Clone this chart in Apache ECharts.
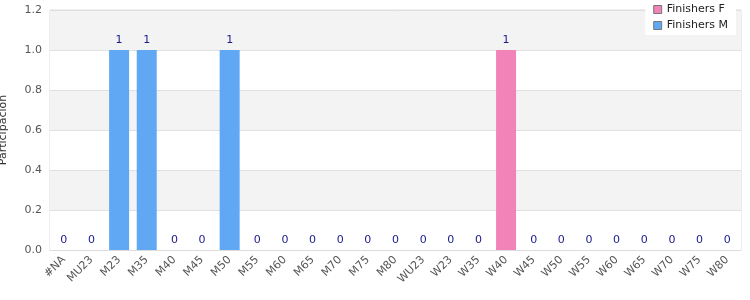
<!DOCTYPE html>
<html><head><meta charset="utf-8">
<script src="https://cdn.jsdelivr.net/npm/echarts@6/dist/echarts.min.js"></script>
<style>html,body{margin:0;padding:0;background:#fff}#c{width:750px;height:300px}</style>
</head><body><div id="c"></div>
<script>
const categories = ['#NA','MU23','M23','M35','M40','M45','M50','M55','M60','M65','M70','M75','M80','WU23','W23','W35','W40','W45','W50','W55','W60','W65','W70','W75','W80'];
const finishersF = [null,null,null,null,null,null,null,null,null,null,null,null,null,0,0,0,1,0,0,0,0,0,0,0,0];
const finishersM = [0,0,1,1,0,0,1,0,0,0,0,0,0,null,null,null,null,null,null,null,null,null,null,null,null];
const yTicks = [0,0.2,0.4,0.6,0.8,1.0,1.2];

const chart = echarts.init(document.getElementById('c'));
const lbl = {show:true, position:'top', color:'#1a1a8c', fontSize:11, fontFamily:'DejaVu Sans', distance:4};
chart.setOption({
  animation:false,
  textStyle:{fontFamily:'DejaVu Sans'},
  grid:{left:50, right:9, top:10, bottom:50, containLabel:false, outerBoundsMode:'none', show:true, borderColor:'#dcdcdc', borderWidth:1},
  legend:{
    orient:'vertical', right:14, top:0, backgroundColor:'#fff', padding:[4,8,4,8], itemGap:5,
    itemWidth:8, itemHeight:8, icon:'rect',
    itemStyle:{borderColor:'#777', borderWidth:1},
    textStyle:{fontSize:11, color:'#222', fontFamily:'DejaVu Sans'},
    data:['Finishers F','Finishers M']
  },
  xAxis:{
    type:'category', data:categories,
    axisTick:{show:false},
    axisLine:{lineStyle:{color:'#dcdcdc'}},
    axisLabel:{rotate:45, fontSize:11, color:'#555', interval:0, margin:8, fontFamily:'DejaVu Sans'}
  },
  yAxis:{
    type:'value', min:0, max:yTicks[yTicks.length-1], interval:0.2,
    name:'Participación', nameLocation:'middle', nameGap:41, nameRotate:90,
    nameTextStyle:{fontSize:11, color:'#333', fontFamily:'DejaVu Sans'},
    axisLine:{show:false}, axisTick:{show:false},
    axisLabel:{fontSize:11, color:'#555', formatter:v=>v.toFixed(1), fontFamily:'DejaVu Sans', margin:8},
    splitLine:{lineStyle:{color:'#e0e0e0'}},
    splitArea:{show:true, areaStyle:{color:['#ffffff','#f3f3f3']}}
  },
  series:[
    {name:'Finishers F', type:'bar', stack:'t', data:finishersF, barWidth:20, itemStyle:{color:'#f283b8'}, label:lbl},
    {name:'Finishers M', type:'bar', stack:'t', data:finishersM, barWidth:20, itemStyle:{color:'#61a8f4'}, label:lbl}
  ]
});
</script></body></html>
